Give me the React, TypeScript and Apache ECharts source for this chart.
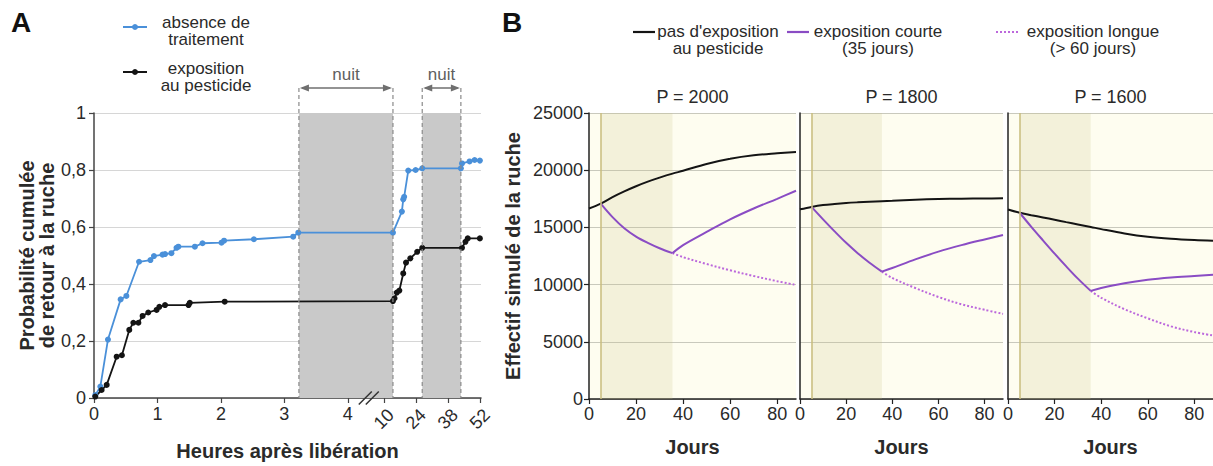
import React, { useEffect, useRef } from "react";
import * as echarts from "echarts";

// ---------- Panel A data (hours after release, cumulative probability) ----------
const untreatedHours = [0.02, 0.1, 0.22, 0.42, 0.51, 0.71, 0.89, 0.945, 1.08, 1.12, 1.22, 1.3, 1.33, 1.59, 1.71, 2.01, 2.05, 2.52, 3.14, 3.22, 14, 17.9, 18.5, 18.9, 20.7, 23.9, 26.8, 43.7, 44.2, 47.5, 49.7, 52];
const untreatedProb = [0.01, 0.04, 0.205, 0.346, 0.358, 0.478, 0.484, 0.498, 0.503, 0.505, 0.508, 0.527, 0.531, 0.531, 0.543, 0.545, 0.552, 0.557, 0.566, 0.58, 0.58, 0.654, 0.697, 0.706, 0.798, 0.8, 0.806, 0.806, 0.823, 0.83, 0.835, 0.833];
const pesticideHours = [0.02, 0.12, 0.2, 0.357, 0.44, 0.556, 0.62, 0.7, 0.766, 0.855, 0.987, 1.03, 1.12, 1.49, 1.51, 2.06, 14, 14.7, 15.7, 16.8, 18.5, 19.7, 21.6, 24.6, 26.8, 44.2, 45.7, 46.7, 52];
const pesticideProb = [0.005, 0.028, 0.046, 0.145, 0.15, 0.239, 0.264, 0.264, 0.288, 0.3, 0.309, 0.32, 0.326, 0.326, 0.334, 0.338, 0.34, 0.35, 0.37, 0.377, 0.437, 0.475, 0.49, 0.513, 0.527, 0.527, 0.548, 0.56, 0.56];
const nightStart = [3.23, 26.8];
const nightEnd = [14, 43.7];
const linearTicks = [0, 1, 2, 3, 4];
const brokenTicks = [10, 24, 38, 52];
// broken hour axis: hour anchors -> axis units
const hourAnchors = [0, 4, 10, 52];
const unitAnchors = [0, 4, 4.568, 6.082];

// ---------- Panel B data (days, simulated colony size) ----------
const days = [0, 5, 10, 15, 20, 25, 30, 35.5, 40, 50, 60, 70, 80, 88];
const exposureStart = 5;
const exposureEnd = 35.5;
const dayTicks = [0, 20, 40, 60, 80];
const panelTitles = ["P = 2000", "P = 1800", "P = 1600"];
// no exposure (all days)
const noExp2000 = [16650, 17080, 17650, 18150, 18600, 19000, 19350, 19700, 19950, 20550, 21000, 21300, 21480, 21600];
const noExp1800 = [16580, 16790, 16950, 17050, 17130, 17190, 17240, 17290, 17330, 17420, 17480, 17510, 17530, 17540];
const noExp1600 = [16570, 16280, 16070, 15870, 15670, 15460, 15260, 15040, 14850, 14470, 14180, 14000, 13890, 13840];
// exposure phase (days 5 .. 35.5)
const expo2000 = [17080, 15900, 14930, 14200, 13650, 13180, 12750];
const expo1800 = [16790, 15700, 14650, 13650, 12750, 11930, 11130];
const expo1600 = [16280, 15050, 13870, 12710, 11590, 10520, 9450];
// short exposure recovery (days 35.5 .. 88)
const short2000 = [12750, 13450, 14600, 15700, 16650, 17500, 18200];
const short1800 = [11130, 11450, 12200, 12880, 13450, 13950, 14330];
const short1600 = [9450, 9700, 10120, 10420, 10620, 10760, 10870];
// long exposure (days 35.5 .. 88)
const long2000 = [12750, 12400, 11800, 11250, 10750, 10300, 9970];
const long1800 = [11130, 10580, 9700, 8920, 8280, 7800, 7440];
const long1600 = [9450, 8850, 7850, 7050, 6350, 5850, 5550];

const noExpAll = [noExp2000, noExp1800, noExp1600];
const expoAll = [expo2000, expo1800, expo1600];
const shortAll = [short2000, short1800, short1600];
const longAll = [long2000, long1800, long1600];

const FONT = "'Liberation Sans', Arial, Helvetica, sans-serif";
const TXT = "#2a2a2a";
const BLUE = "#4a90d9";
const BLACK = "#141414";
const PURPLE = "#8a4cc4";
const PURPLE_DOT = "#bc68dc";

const T = (h: number) => {
  for (let i = 1; i < hourAnchors.length; i++) {
    if (h <= hourAnchors[i] || i === hourAnchors.length - 1) {
      const h0 = hourAnchors[i - 1], h1 = hourAnchors[i];
      const u0 = unitAnchors[i - 1], u1 = unitAnchors[i];
      return u0 + ((h - h0) * (u1 - u0)) / (h1 - h0);
    }
  }
  return h;
};

const brokenLabel = (v: number) => {
  for (let i = 0; i < brokenTicks.length; i++) {
    if (Math.abs(T(brokenTicks[i]) - v) < 1e-6) return String(brokenTicks[i]);
  }
  return "";
};

export default function App() {
  const ref = useRef<HTMLDivElement>(null);
  useEffect(() => {
    if (!ref.current) return;
    const chart = echarts.init(ref.current, null, { renderer: "svg" });

    const gridsB = [
      { left: 589, top: 113, width: 207, height: 286 },
      { left: 800, top: 113, width: 203, height: 286 },
      { left: 1008, top: 113, width: 205, height: 286 },
    ];

    const xAxes: any[] = [
      {
        type: "value", gridIndex: 0, position: "bottom", min: 0, max: 6.1,
        axisLine: { show: true, lineStyle: { color: "#444", width: 1.5 } },
        axisTick: { show: true, customValues: linearTicks, length: 5, lineStyle: { color: "#444", width: 1.2 } },
        axisLabel: { show: true, customValues: linearTicks, fontSize: 18, color: TXT, margin: 7, fontFamily: FONT, formatter: (v: number) => String(Math.round(v)) },
        splitLine: { show: false },
        name: "Heures après libération", nameLocation: "middle", nameGap: 43,
        nameTextStyle: { fontSize: 20, fontWeight: "bold", color: TXT, fontFamily: FONT },
      },
      {
        type: "value", gridIndex: 0, position: "bottom", offset: 0, min: 0, max: 6.1,
        axisLine: { show: false },
        axisTick: { show: true, customValues: brokenTicks.map(T), length: 5, lineStyle: { color: "#444", width: 1.2 } },
        axisLabel: { show: true, customValues: brokenTicks.map(T), rotate: 45, align: "center", verticalAlign: "middle", fontSize: 18, color: TXT, margin: 21, fontFamily: FONT, formatter: brokenLabel },
        splitLine: { show: false },
      },
    ];
    gridsB.forEach((_, k) => {
      xAxes.push({
        type: "value", gridIndex: k + 1, position: "bottom", min: 0, max: 88,
        axisLine: { show: true, lineStyle: { color: "#222", width: 1.5 } },
        axisTick: { show: true, customValues: dayTicks, length: 5, lineStyle: { color: "#222", width: 1.2 } },
        axisLabel: { show: true, customValues: dayTicks, fontSize: 18, color: TXT, margin: 6, fontFamily: FONT, formatter: (v: number) => String(v) },
        splitLine: { show: false },
        name: "Jours", nameLocation: "middle", nameGap: 38,
        nameTextStyle: { fontSize: 20, fontWeight: "bold", color: TXT, fontFamily: FONT },
      });
    });

    const yAxes: any[] = [
      {
        type: "value", gridIndex: 0, min: 0, max: 1, interval: 0.2,
        axisLine: { show: true, lineStyle: { color: "#444", width: 1.5 } },
        axisTick: { show: true, length: 5, lineStyle: { color: "#444", width: 1.2 } },
        axisLabel: { fontSize: 18, color: TXT, margin: 8, fontFamily: FONT, formatter: (v: number) => String(Math.round(v * 10) / 10).replace(".", ",") },
        splitLine: { show: true, lineStyle: { color: "#d6d6d6", width: 1.2 } },
        name: "Probabilité cumulée\nde retour à la ruche", nameLocation: "middle", nameGap: 33,
        nameTextStyle: { fontSize: 20, fontWeight: "bold", color: TXT, lineHeight: 20, fontFamily: FONT },
      },
    ];
    gridsB.forEach((_, k) => {
      yAxes.push({
        type: "value", gridIndex: k + 1, min: 0, max: 25000, interval: 5000,
        axisLine: { show: true, lineStyle: { color: "#222", width: 1.5 } },
        axisTick: { show: k === 0, length: 5, lineStyle: { color: "#222", width: 1.2 } },
        axisLabel: { show: k === 0, fontSize: 18, color: TXT, margin: 6, fontFamily: FONT, formatter: (v: number) => String(v) },
        splitLine: { show: true, lineStyle: { color: "#c9c9bd", width: 1.2 } },
        name: k === 0 ? "Effectif simulé de la ruche" : "", nameLocation: "middle", nameGap: 66,
        nameTextStyle: { fontSize: 20, fontWeight: "bold", color: TXT, fontFamily: FONT },
      });
    });

    const series: any[] = [
      {
        type: "line", xAxisIndex: 0, yAxisIndex: 0, data: [], silent: true,
        markArea: {
          silent: true, itemStyle: { color: "#c9c9c9" },
          data: nightStart.map((s, i) => [{ xAxis: T(s) }, { xAxis: T(nightEnd[i]) }]),
        },
      },
      {
        type: "line", name: "absence de traitement", xAxisIndex: 0, yAxisIndex: 0,
        data: untreatedHours.map((h, i) => [T(h), untreatedProb[i]]),
        symbol: "circle", symbolSize: 6, color: BLUE,
        lineStyle: { color: BLUE, width: 1.8 }, itemStyle: { color: BLUE },
      },
      {
        type: "line", name: "exposition au pesticide", xAxisIndex: 0, yAxisIndex: 0,
        data: pesticideHours.map((h, i) => [T(h), pesticideProb[i]]),
        symbol: "circle", symbolSize: 6, color: BLACK,
        lineStyle: { color: BLACK, width: 1.8 }, itemStyle: { color: BLACK },
      },
    ];
    gridsB.forEach((_, k) => {
      const ax = k + 2;
      const ay = k + 1;
      series.push({
        type: "line", xAxisIndex: ax, yAxisIndex: ay, data: [], silent: true,
        markArea: {
          silent: true, itemStyle: { color: "rgba(200,195,130,0.2)" },
          data: [[{ xAxis: exposureStart }, { xAxis: exposureEnd }]],
        },
        markLine: {
          silent: true, symbol: ["none", "none"], label: { show: false },
          lineStyle: { color: "#c9bc7e", width: 1.5, type: "solid" },
          data: [{ xAxis: exposureStart }],
        },
      });
      series.push({
        type: "line", name: "pas d'exposition au pesticide", xAxisIndex: ax, yAxisIndex: ay,
        data: days.map((d, i) => [d, noExpAll[k][i]]), showSymbol: false, smooth: 0.35,
        lineStyle: { color: BLACK, width: 2 }, color: BLACK,
      });
      series.push({
        type: "line", name: "exposition courte (35 jours)", xAxisIndex: ax, yAxisIndex: ay,
        data: days.slice(1, 8).map((d, i) => [d, expoAll[k][i]]), showSymbol: false, smooth: 0.35,
        lineStyle: { color: PURPLE, width: 2 }, color: PURPLE,
      });
      series.push({
        type: "line", name: "exposition longue (> 60 jours)", xAxisIndex: ax, yAxisIndex: ay,
        data: days.slice(7).map((d, i) => [d, longAll[k][i]]), showSymbol: false, smooth: 0.35,
        lineStyle: { color: PURPLE_DOT, width: 2, type: [2, 2] }, color: PURPLE_DOT,
      });
      series.push({
        type: "line", name: "exposition courte (35 jours)", xAxisIndex: ax, yAxisIndex: ay,
        data: days.slice(7).map((d, i) => [d, shortAll[k][i]]), showSymbol: false, smooth: 0.35,
        lineStyle: { color: PURPLE, width: 2 }, color: PURPLE,
      });
    });

    const option: any = {
      animation: false,
      backgroundColor: "#ffffff",
      textStyle: { fontFamily: FONT },
      grid: [
        { left: 94, top: 113, width: 387, height: 285, outerBoundsMode: "none" },
        ...gridsB.map((g) => ({ ...g, show: true, backgroundColor: "#fefdf0", borderWidth: 0, outerBoundsMode: "none" })),
      ],
      title: panelTitles.map((t, k) => ({
        text: t, left: gridsB[k].left + gridsB[k].width / 2, top: 88, textAlign: "center", padding: 0,
        textStyle: { fontSize: 18, fontWeight: "normal", color: TXT, fontFamily: FONT },
      })),
      xAxis: xAxes,
      yAxis: yAxes,
      series,
    };
    chart.setOption(option);

    // annotations positioned through the axes' scales
    const px = (h: number) => chart.convertToPixel({ xAxisIndex: 0 }, T(h)) as number;
    const yBottom = chart.convertToPixel({ yAxisIndex: 0 }, 0) as number;
    const arrowY = 88;
    const g: any[] = [];
    nightStart.forEach((s, i) => {
      const x1 = px(s);
      const x2 = px(nightEnd[i]);
      [x1, x2].forEach((x) => {
        g.push({ type: "line", silent: true, z: 100, shape: { x1: x, y1: arrowY, x2: x, y2: yBottom }, style: { stroke: "#8a8a8a", lineWidth: 1.2, lineDash: [4, 3] } });
      });
      g.push({ type: "line", silent: true, z: 100, shape: { x1: x1 + 3, y1: arrowY, x2: x2 - 3, y2: arrowY }, style: { stroke: "#6f6f6f", lineWidth: 1.6 } });
      g.push({ type: "polygon", silent: true, z: 100, shape: { points: [[x1 + 1, arrowY], [x1 + 10, arrowY - 3.5], [x1 + 10, arrowY + 3.5]] }, style: { fill: "#6f6f6f" } });
      g.push({ type: "polygon", silent: true, z: 100, shape: { points: [[x2 - 1, arrowY], [x2 - 10, arrowY - 3.5], [x2 - 10, arrowY + 3.5]] }, style: { fill: "#6f6f6f" } });
      g.push({ type: "text", silent: true, z: 100, style: { text: "nuit", x: (x1 + x2) / 2, y: 74, align: "center", verticalAlign: "middle", fontSize: 17, fontFamily: FONT, fill: "#606060" } });
    });
    // axis break marker
    const bx = px(7.5);
    [-3.5, 3.5].forEach((dx) => {
      g.push({ type: "line", silent: true, z: 100, shape: { x1: bx + dx - 6.5, y1: yBottom + 6.5, x2: bx + dx + 6.5, y2: yBottom - 6.5 }, style: { stroke: "#333", lineWidth: 1.5 } });
    });
    // panel letters
    g.push({ type: "text", silent: true, style: { text: "A", x: 11, y: 8, fontSize: 28, fontWeight: "bold", fontFamily: FONT, fill: "#111" } });
    g.push({ type: "text", silent: true, style: { text: "B", x: 502, y: 8, fontSize: 28, fontWeight: "bold", fontFamily: FONT, fill: "#111" } });
    // legend A
    const legA = [
      { y: 27, color: BLUE, text: "absence de\ntraitement", ty: 31 },
      { y: 72, color: BLACK, text: "exposition\nau pesticide", ty: 76.5 },
    ];
    legA.forEach((l) => {
      g.push({ type: "line", silent: true, shape: { x1: 123, y1: l.y, x2: 147, y2: l.y }, style: { stroke: l.color, lineWidth: 2 } });
      g.push({ type: "circle", silent: true, shape: { cx: 135, cy: l.y, r: 3 }, style: { fill: l.color } });
      g.push({ type: "text", silent: true, style: { text: l.text, x: 206, y: l.ty, align: "center", verticalAlign: "middle", fontSize: 17, lineHeight: 17, fontFamily: FONT, fill: TXT } });
    });
    // legend B
    const legB = [
      { x1: 633, x2: 655, color: BLACK, dash: null as any, text: "pas d'exposition\nau pesticide", tx: 718 },
      { x1: 787, x2: 809, color: PURPLE, dash: null as any, text: "exposition courte\n(35 jours)", tx: 878 },
      { x1: 996, x2: 1020, color: PURPLE_DOT, dash: [2, 2], text: "exposition longue\n(> 60 jours)", tx: 1093 },
    ];
    legB.forEach((l) => {
      g.push({ type: "line", silent: true, shape: { x1: l.x1, y1: 32, x2: l.x2, y2: 32 }, style: { stroke: l.color, lineWidth: 2.2, lineDash: l.dash } });
      g.push({ type: "text", silent: true, style: { text: l.text, x: l.tx, y: 39.5, align: "center", verticalAlign: "middle", fontSize: 17, lineHeight: 17, fontFamily: FONT, fill: TXT } });
    });
    chart.setOption({ graphic: g });

    return () => chart.dispose();
  }, []);

  return <div ref={ref} style={{ position: "fixed", left: 0, top: 0, width: 1213, height: 466 }} />;
}
